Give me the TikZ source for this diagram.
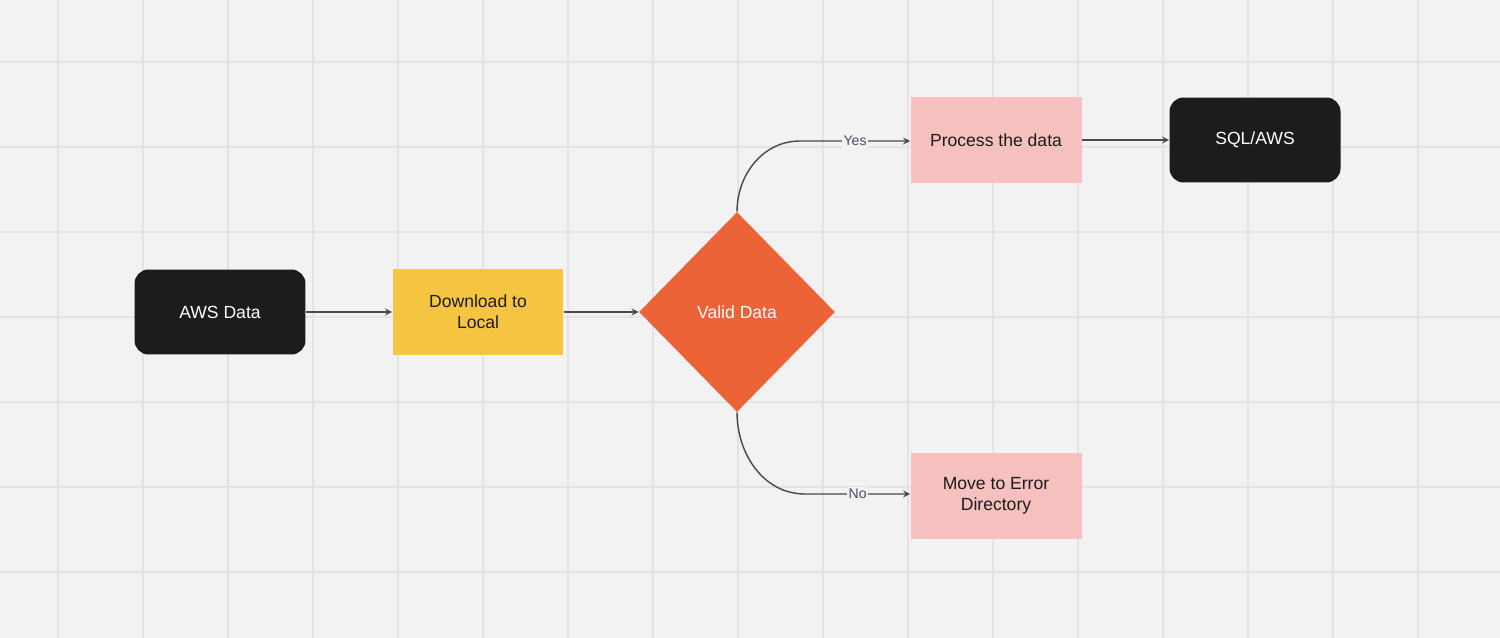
\documentclass[tikz,border=0pt]{standalone}
\usepackage{fontspec}
\setmainfont{Liberation Sans}
\usetikzlibrary{positioning, shapes.geometric, arrows}
\definecolor{bggray}{HTML}{F2F2F2}
\definecolor{gridgray}{HTML}{E3E3E3}
\definecolor{darkbox}{HTML}{1C1C1C}
\definecolor{yellowbox}{HTML}{F5C542}
\definecolor{orangebox}{HTML}{EC6337}
\definecolor{pinkbox}{HTML}{F5C0BE}
\definecolor{labelblue}{HTML}{4A4A6A}
\tikzset{
    >=stealth, % arrow heads
    every node/.style={font=\fontsize{10}{12}\selectfont},
    endbox/.style={fill=darkbox, text=white, rounded corners=8pt, minimum width=3.42cm, minimum height=1.7cm},
    stepbox/.style={minimum width=3.42cm, minimum height=1.72cm, align=center, text=darkbox},
    flow/.style={->, draw=darkbox!80, thick},
    lbl/.style={fill=bggray, text=labelblue, inner sep=1pt, font=\fontsize{8}{10}\selectfont},
}
\begin{document}
\begin{tikzpicture}[x=0.02cm, y=-0.02cm]
    % background and grid
    \fill[bggray] (0,0) rectangle (1500,638);
    \useasboundingbox (0,0) rectangle (1500,638);
    \foreach \gx in {58,143,...,1500}
        \draw[gridgray, line width=0.6pt] (\gx,0) -- (\gx,638);
    \foreach \gy in {62,147,...,638}
        \draw[gridgray, line width=0.6pt] (0,\gy) -- (1500,\gy);
    % nodes
    \node[endbox] (aws) at (220,312) {AWS Data};
    \node[stepbox, fill=yellowbox] (dl) at (478,312) {Download to\\Local};
    \node[diamond, fill=orangebox, text=white, minimum width=3.92cm, minimum height=4cm, inner sep=0pt] (valid) at (737,312) {Valid Data};
    \node[stepbox, fill=pinkbox] (proc) at (996,140) {Process the data};
    \node[endbox] (sql) at (1255,140) {SQL/AWS};
    \node[stepbox, fill=pinkbox] (err) at (996,496) {Move to Error\\Directory};
    \coordinate (yesbend) at (800,141);
    \coordinate (nobend) at (805,494);
    % connectors
    \draw[flow] (aws) -- (dl);
    \draw[flow] (dl) -- (valid);
    \draw[flow] (valid.north) to[out=90, in=180] (yesbend) -- node[lbl]{Yes} (proc.west |- yesbend);
    \draw[flow] (proc) -- (sql);
    \draw[flow] (valid.south) to[out=-90, in=180] (nobend) -- node[lbl]{No} (err.west |- nobend);
\end{tikzpicture}
\end{document}
